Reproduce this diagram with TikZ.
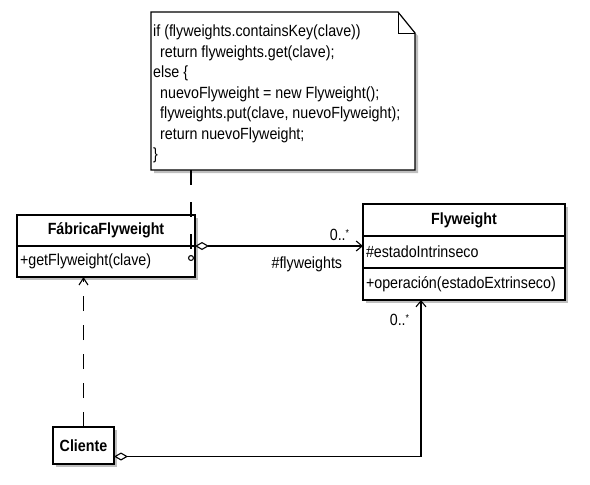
\documentclass[tikz,border=0pt]{standalone}
\usepackage{fontspec}
\setmainfont{Liberation Sans}[FakeStretch=0.88]
\usetikzlibrary{arrows.meta,positioning,shadows}
\tikzset{
  x=1pt, y=-1pt,
  font=\fontsize{16.2}{20.5}\selectfont,
  umlbox/.style={draw, line width=1.2pt, fill=white, inner sep=0pt, outer sep=0pt,
    drop shadow={shadow xshift=3pt, shadow yshift=-3pt, fill=black!25, opacity=1}},
  classtitle/.style={umlbox, font=\fontsize{16.2}{18}\selectfont\bfseries},
  member/.style={umlbox, align=left, inner xsep=3pt},
  aggr/.style={line width=1.1pt, {Diamond[fill=white,length=14pt,width=8pt]}-{Straight Barb[length=6pt,width=10pt]}},
  dep/.style={line width=1.1pt, dash pattern=on 15pt off 14pt, -{Straight Barb[length=7pt,width=9pt]}},
  notelink/.style={line width=1.1pt, dash pattern=on 15pt off 17pt, -{Circle[open,length=6pt,width=6pt]}}
}
\begin{document}
\begin{tikzpicture}
\useasboundingbox (0,0) rectangle (590,485);

% nota con el codigo de getFlyweight
\node[minimum width=264pt, minimum height=158pt, inner sep=0pt, outer sep=0pt, anchor=north west] (note) at (151,12) {};
\fill[black!25] ([xshift=3pt,yshift=-3pt]note.north west) -- ([xshift=-14pt,yshift=-3pt]note.north east)
  -- ([xshift=3pt,yshift=-24pt]note.north east) -- ([xshift=3pt,yshift=-3pt]note.south east)
  -- ([xshift=3pt,yshift=-3pt]note.south west) -- cycle;
\draw[line width=1.2pt, fill=white] (note.north west) -- ([xshift=-17pt]note.north east)
  -- ([yshift=-21pt]note.north east) -- (note.south east) -- (note.south west) -- cycle;
\draw[line width=1pt] ([xshift=-17pt]note.north east) |- ([yshift=-21pt]note.north east);
\node[anchor=north west, align=left, inner sep=1pt] (notetext) at ([xshift=1pt,yshift=-12pt]note.north west)
  {if (flyweights.containsKey(clave))\\
   \hspace*{7pt}return flyweights.get(clave);\\
   else \{\\
   \hspace*{7pt}nuevoFlyweight = new Flyweight();\\
   \hspace*{7pt}flyweights.put(clave, nuevoFlyweight);\\
   \hspace*{7pt}return nuevoFlyweight;\\
   \}};

% clases
\node[classtitle, minimum width=178pt, minimum height=31pt, anchor=north west] (fabtitle) at (17,215) {FábricaFlyweight};
\node[member, text width=172pt, minimum height=31pt, below=0pt of fabtitle] (fabop) {+getFlyweight(clave)};

\node[classtitle, minimum width=202pt, minimum height=32pt, anchor=north west] (flytitle) at (363,204) {Flyweight};
\node[member, text width=196pt, minimum height=32pt, below=0pt of flytitle] (flyattr) {\#estadoIntrinseco};
\node[member, text width=196pt, minimum height=32pt, below=0pt of flyattr] (flyop) {+operación(estadoExtrinseco)};

\node[classtitle, minimum width=61pt, minimum height=37pt, anchor=north west] (cliente) at (53,427) {Cliente};

% relaciones
\coordinate (pin) at (191,261);
\draw[notelink] (note.south -| pin) -- (pin);
\draw[aggr] (fabtitle.south east) -- (fabtitle.south east -| flyattr.west)
  node[at end, anchor=south east, xshift=-10pt, yshift=1pt] {0..\raisebox{4pt}{\fontsize{10}{10}\selectfont *}}
  node[at end, anchor=north east, xshift=-17pt, yshift=-7pt] {\#flyweights};
\draw[dep] (cliente.north) -- (cliente.north |- fabop.south);
\draw[aggr] ([yshift=-11pt]cliente.east) -| ([xshift=-43pt]flyop.south)
  node[at end, anchor=north east, xshift=-8pt, yshift=-10pt] {0..\raisebox{4pt}{\fontsize{10}{10}\selectfont *}};
\end{tikzpicture}
\end{document}
